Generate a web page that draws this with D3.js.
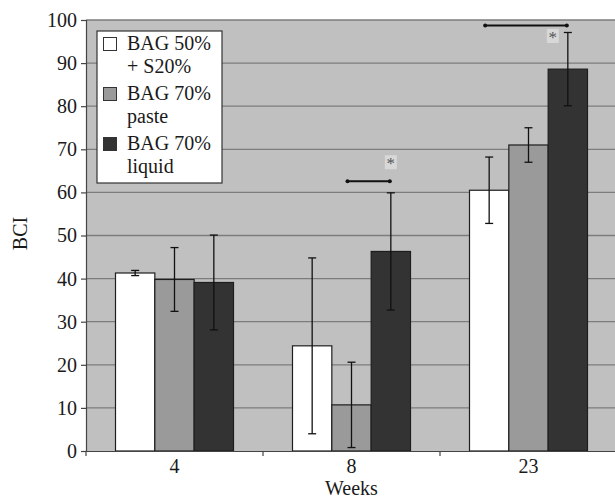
<!DOCTYPE html>
<html>
<head>
<meta charset="utf-8">
<script src="https://cdn.jsdelivr.net/npm/d3@7"></script>
<style>
  body { margin: 0; background: #fff; }
  text { font-family: "Liberation Serif", "Times New Roman", serif; fill: #1a1a1a; }
</style>
</head>
<body>
<script>
// Chart data
const weeks = ["4", "8", "23"];
const seriesNames = [["BAG 50%", "+ S20%"], ["BAG 70%", "paste"], ["BAG 70%", "liquid"]];
const seriesColors = ["#ffffff", "#9a9a9a", "#333333"];
const meanBag50 = [41.3, 24.4, 60.5];
const meanPaste = [39.8, 10.7, 71.0];
const meanLiquid = [39.1, 46.3, 88.6];
const errBag50 = [0.6, 20.4, 7.7];
const errPaste = [7.4, 9.9, 4.0];
const errLiquid = [11.0, 13.6, 8.5];
const yTicks = [0, 10, 20, 30, 40, 50, 60, 70, 80, 90, 100];
// significance brackets: week, from series, to series, bracket value, star value
const sigWeeks = ["8", "23"];
const sigFrom = [1, 0];
const sigTo = [2, 2];
const sigLine = [62.6, 98.7];
const sigStar = [67.0, 96.3];

const means = [meanBag50, meanPaste, meanLiquid];
const errs = [errBag50, errPaste, errLiquid];
const bars = [];
weeks.forEach((w, i) => {
    means.forEach((m, s) => bars.push({ week: w, s: s, v: m[i], e: errs[s][i] }));
});

// Set up chart dimensions
const W = 615, H = 498;
const plot = { left: 86, top: 20, right: 617, bottom: 451 };
const fs = "20px";

const svg = d3.select("body")
    .append("svg")
    .attr("width", W)
    .attr("height", H);

const x0 = d3.scaleBand().domain(weeks).range([plot.left, plot.right]).padding(0);
const x1 = d3.scaleBand().domain([0, 1, 2]).range([0, x0.bandwidth()]).paddingInner(0).paddingOuter(0.75);
const y = d3.scaleLinear().domain([0, 100]).range([plot.bottom, plot.top]);

// Plot background
svg.append("rect")
    .attr("x", plot.left)
    .attr("y", plot.top)
    .attr("width", plot.right - plot.left)
    .attr("height", plot.bottom - plot.top)
    .attr("fill", "#c0c0c0");

// Grid lines
svg.append("g")
    .selectAll("line")
    .data(yTicks.filter(t => t > 0))
    .enter()
    .append("line")
    .attr("x1", plot.left)
    .attr("x2", plot.right)
    .attr("y1", d => y(d))
    .attr("y2", d => y(d))
    .attr("stroke", "#7c7c7c")
    .attr("stroke-width", 1.3);

// Bars
svg.append("g")
    .selectAll("rect")
    .data(bars)
    .enter()
    .append("rect")
    .attr("x", d => x0(d.week) + x1(d.s))
    .attr("y", d => y(d.v))
    .attr("width", x1.bandwidth())
    .attr("height", d => y(0) - y(d.v))
    .attr("fill", d => seriesColors[d.s])
    .attr("stroke", "#1e1e1e")
    .attr("stroke-width", 1.2);

// Error bars
const eb = svg.append("g")
    .selectAll("g")
    .data(bars)
    .enter()
    .append("g")
    .attr("stroke", "#111")
    .attr("stroke-width", 1.3);
const cx = d => x0(d.week) + x1(d.s) + x1.bandwidth() / 2;
eb.append("line")
    .attr("x1", cx).attr("x2", cx)
    .attr("y1", d => y(d.v + d.e)).attr("y2", d => y(d.v - d.e));
eb.append("line")
    .attr("x1", d => cx(d) - 4).attr("x2", d => cx(d) + 4)
    .attr("y1", d => y(d.v + d.e)).attr("y2", d => y(d.v + d.e));
eb.append("line")
    .attr("x1", d => cx(d) - 4).attr("x2", d => cx(d) + 4)
    .attr("y1", d => y(d.v - d.e)).attr("y2", d => y(d.v - d.e));

// Axes
const yAxis = d3.axisLeft(y).tickValues(yTicks).tickSize(5).tickPadding(4);
const gy = svg.append("g")
    .attr("transform", `translate(${plot.left},0)`)
    .call(yAxis);
gy.selectAll("text").style("font-size", fs);
gy.selectAll("line").attr("stroke", "#444").attr("stroke-width", 1.2);
gy.select(".domain").attr("stroke", "#444").attr("stroke-width", 1.2);

const xAxis = d3.axisBottom(x0).tickSize(0).tickPadding(8);
const gx = svg.append("g")
    .attr("transform", `translate(0,${plot.bottom})`)
    .call(xAxis);
gx.selectAll("text").style("font-size", fs);
gx.select(".domain").attr("stroke", "#444").attr("stroke-width", 1.2);
gx.selectAll(".sep")
    .data(weeks)
    .enter()
    .append("line")
    .attr("class", "sep")
    .attr("x1", d => x0(d)).attr("x2", d => x0(d))
    .attr("y1", 0).attr("y2", 5)
    .attr("stroke", "#444")
    .attr("stroke-width", 1.2);

// Axis titles
svg.append("text")
    .attr("x", (plot.left + plot.right) / 2)
    .attr("y", 495)
    .attr("text-anchor", "middle")
    .style("font-size", fs)
    .text("Weeks");

svg.append("text")
    .attr("transform", `translate(27,${(plot.top + plot.bottom) / 2 - 2}) rotate(-90)`)
    .attr("text-anchor", "middle")
    .style("font-size", fs)
    .text("BCI");

// Significance brackets
const sig = sigWeeks.map((w, i) => ({ week: w, from: sigFrom[i], to: sigTo[i], line: sigLine[i], star: sigStar[i] }));
const sg = svg.append("g")
    .selectAll("g")
    .data(sig)
    .enter()
    .append("g");
const bx = (w, s) => x0(w) + x1(s) + x1.bandwidth() / 2;
sg.append("line")
    .attr("x1", d => bx(d.week, d.from) - 4)
    .attr("x2", d => bx(d.week, d.to) - 1)
    .attr("y1", d => y(d.line)).attr("y2", d => y(d.line))
    .attr("stroke", "#111")
    .attr("stroke-width", 2);
sg.append("circle")
    .attr("cx", d => bx(d.week, d.from) - 4)
    .attr("cy", d => y(d.line))
    .attr("r", 2)
    .attr("fill", "#111");
sg.append("circle")
    .attr("cx", d => bx(d.week, d.to) - 1)
    .attr("cy", d => y(d.line))
    .attr("r", 2)
    .attr("fill", "#111");
// star moves left when it would sit on the error bar
const starX = d => {
    const b = bars.find(r => r.week === d.week && r.s === d.to);
    return bx(d.week, d.to) - (d.star < b.v + b.e ? 15 : 0);
};
sg.append("rect")
    .attr("x", d => starX(d) - 6)
    .attr("y", d => y(d.star) - 7)
    .attr("width", 12)
    .attr("height", 14)
    .attr("fill", "#d8d8d8");
sg.append("text")
    .attr("x", starX)
    .attr("y", d => y(d.star) + 7)
    .attr("text-anchor", "middle")
    .style("font-size", "17px")
    .style("fill", "#555")
    .text("*");

// Legend
const legend = svg.append("g").attr("transform", "translate(97,31)");
legend.append("rect")
    .attr("width", 125)
    .attr("height", 152)
    .attr("fill", "#fff")
    .attr("stroke", "#333")
    .attr("stroke-width", 1.2);
const item = legend.selectAll(".item")
    .data(seriesNames)
    .enter()
    .append("g")
    .attr("class", "item")
    .attr("transform", (d, i) => `translate(0,${19 + i * 50})`);
item.append("rect")
    .attr("x", 6.5)
    .attr("y", -12.5)
    .attr("width", 13)
    .attr("height", 13)
    .attr("fill", (d, i) => seriesColors[i])
    .attr("stroke", "#333")
    .attr("stroke-width", 1);
item.append("text")
    .attr("x", 30)
    .attr("y", 0)
    .style("font-size", fs)
    .text(d => d[0]);
item.append("text")
    .attr("x", 30)
    .attr("y", 23)
    .style("font-size", fs)
    .text(d => d[1]);
</script>
</body>
</html>
